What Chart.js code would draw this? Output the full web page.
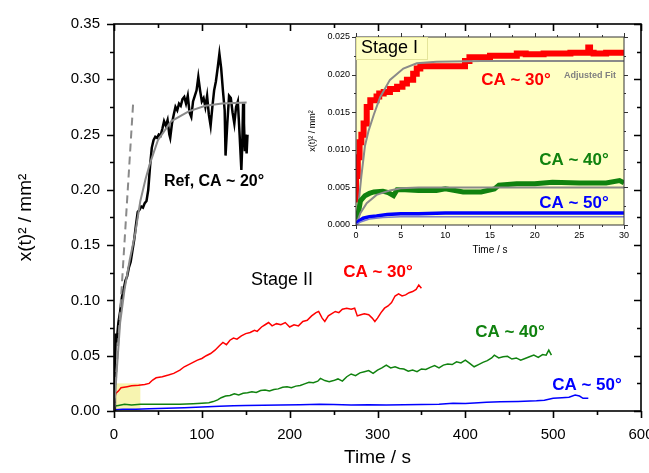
<!DOCTYPE html>
<html>
<head>
<meta charset="utf-8">
<script src="https://cdn.jsdelivr.net/npm/chart.js@4.4.1/dist/chart.umd.min.js"></script>
<style>
  body { margin: 0; background: #fff; }
  #wrap { position: relative; width: 649px; height: 473px; }
  #main { position: absolute; left: 0; top: 0; }
  #inset { position: absolute; left: 300px; top: 20px; }
</style>
</head>
<body>
<div id="wrap">
  <canvas id="main" width="649" height="473"></canvas>
  <canvas id="inset" width="340" height="250"></canvas>
</div>
<script>
// ---- main chart data (time in s, x(t)^2 in mm^2) ----
var refT = [0, 1, 2, 3, 5, 7, 9, 11, 13, 15, 17, 19, 21, 23, 25, 27, 29, 31, 33, 35, 37, 39, 41, 43, 45, 47, 49, 51, 53, 55, 57, 59, 61, 63, 64, 66, 68, 70, 72, 74, 76, 78, 80, 82, 84, 86, 88, 90, 92, 94, 96, 98, 100, 102, 104, 106, 108, 110, 112, 114, 116, 118, 120, 122, 124, 126, 127, 129, 131, 133, 135, 137, 139, 141, 143, 145, 146, 147, 148, 149, 150, 151, 152];
var refY = [0, 0.04, 0.07, 0.062, 0.08, 0.09, 0.103, 0.11, 0.118, 0.122, 0.13, 0.135, 0.145, 0.155, 0.168, 0.18, 0.182, 0.185, 0.184, 0.188, 0.19, 0.2, 0.221, 0.238, 0.245, 0.248, 0.247, 0.25, 0.249, 0.255, 0.262, 0.258, 0.263, 0.25, 0.247, 0.26, 0.268, 0.275, 0.272, 0.278, 0.276, 0.282, 0.284, 0.278, 0.285, 0.27, 0.266, 0.28, 0.285, 0.29, 0.302, 0.29, 0.28, 0.283, 0.275, 0.285, 0.268, 0.258, 0.275, 0.29, 0.298, 0.31, 0.323, 0.31, 0.29, 0.272, 0.231, 0.26, 0.285, 0.283, 0.27, 0.26, 0.275, 0.28, 0.25, 0.218, 0.24, 0.278, 0.26, 0.235, 0.25, 0.233, 0.25];
var refFitT = [0, 3, 7, 12, 18, 24, 30, 36, 41, 50, 65, 85, 104, 123, 151];
var refFitY = [0, 0.035, 0.08, 0.11, 0.137, 0.16, 0.19, 0.21, 0.224, 0.245, 0.262, 0.271, 0.276, 0.278, 0.279];
var refDashT = [0, 22];
var refDashY = [0, 0.281];

var ca30T = [0, 1, 2, 5, 8, 15, 20, 28, 35, 40, 44, 48, 55, 62, 68, 75, 80, 85, 90, 95, 100, 105, 110, 115, 120, 124, 128, 132, 136, 140, 145, 150, 155, 160, 163, 168, 172, 176, 180, 185, 190, 195, 200, 205, 210, 215, 220, 225, 230, 233, 237, 240, 244, 248, 252, 256, 260, 265, 270, 274, 277, 281, 285, 290, 294, 297, 300, 304, 308, 312, 316, 320, 324, 328, 332, 336, 340, 344, 347, 350];
var ca30Y = [0.003, 0.012, 0.016, 0.018, 0.021, 0.022, 0.0228, 0.0232, 0.024, 0.025, 0.028, 0.03, 0.031, 0.0325, 0.034, 0.037, 0.04, 0.042, 0.044, 0.046, 0.0475, 0.05, 0.052, 0.055, 0.059, 0.062, 0.06, 0.064, 0.066, 0.065, 0.068, 0.07, 0.071, 0.073, 0.072, 0.076, 0.078, 0.08, 0.077, 0.079, 0.078, 0.08, 0.076, 0.078, 0.077, 0.081, 0.082, 0.086, 0.089, 0.09, 0.084, 0.081, 0.086, 0.088, 0.09, 0.089, 0.092, 0.093, 0.092, 0.093, 0.086, 0.087, 0.088, 0.087, 0.084, 0.081, 0.084, 0.089, 0.093, 0.095, 0.098, 0.104, 0.106, 0.104, 0.105, 0.107, 0.108, 0.11, 0.114, 0.111];

var ca40T = [0, 1, 5, 12, 20, 30, 45, 60, 75, 90, 100, 108, 113, 118, 122, 127, 132, 137, 142, 147, 152, 157, 162, 167, 172, 177, 182, 187, 192, 197, 202, 207, 212, 217, 222, 227, 232, 235, 240, 245, 250, 255, 260, 265, 270, 275, 280, 285, 290, 295, 300, 305, 310, 315, 320, 325, 330, 335, 340, 345, 350, 355, 360, 365, 370, 375, 380, 385, 390, 395, 400, 405, 410, 415, 420, 425, 430, 433, 438, 443, 448, 453, 458, 463, 468, 473, 478, 483, 488, 492, 495, 498];
var ca40Y = [0.001, 0.0045, 0.005, 0.006, 0.0055, 0.006, 0.006, 0.0062, 0.006, 0.0065, 0.007, 0.0075, 0.0085, 0.01, 0.012, 0.0135, 0.014, 0.0155, 0.0145, 0.016, 0.0165, 0.0175, 0.0168, 0.0185, 0.019, 0.0182, 0.0195, 0.02, 0.0215, 0.022, 0.021, 0.0225, 0.023, 0.0245, 0.026, 0.0255, 0.027, 0.0295, 0.0275, 0.0265, 0.0275, 0.029, 0.027, 0.031, 0.0335, 0.032, 0.0345, 0.0355, 0.0365, 0.034, 0.037, 0.039, 0.0415, 0.039, 0.04, 0.0385, 0.038, 0.036, 0.037, 0.0355, 0.038, 0.0375, 0.0395, 0.041, 0.039, 0.0415, 0.0425, 0.042, 0.0445, 0.0435, 0.046, 0.043, 0.04, 0.042, 0.044, 0.0455, 0.048, 0.0505, 0.048, 0.049, 0.0495, 0.047, 0.048, 0.046, 0.0475, 0.049, 0.0505, 0.0485, 0.051, 0.0505, 0.055, 0.0505];

var ca50T = [0, 2, 10, 25, 40, 60, 80, 100, 120, 136, 150, 170, 190, 212, 234, 250, 270, 290, 310, 330, 350, 370, 386, 400, 415, 424, 440, 460, 481, 490, 500, 510, 518, 525, 530, 534, 540];
var ca50Y = [0.0005, 0.0012, 0.0015, 0.0016, 0.002, 0.0025, 0.003, 0.0036, 0.0042, 0.0048, 0.005, 0.0052, 0.0055, 0.0056, 0.006, 0.0058, 0.0055, 0.0057, 0.0054, 0.0056, 0.0058, 0.0062, 0.007, 0.0068, 0.0075, 0.0079, 0.0083, 0.0087, 0.0093, 0.0098, 0.0115, 0.012, 0.0125, 0.0145, 0.0135, 0.0115, 0.0115];

// ---- inset data (Stage I, first 30 s) ----
var s1RedT = [0, 0.2, 0.4, 0.6, 0.85, 1.2, 1.6, 1.8, 2.3, 2.6, 3.1, 3.8, 4.6, 5.2, 5.7, 6.4, 6.8, 7.2, 7.5, 12.2, 12.7, 13.1, 15, 18, 19, 21, 24, 26, 26.2, 26.6, 28, 30];
var s1RedY = [0.003, 0.0065, 0.009, 0.011, 0.012, 0.0135, 0.0157, 0.0166, 0.0166, 0.0171, 0.0175, 0.0177, 0.0181, 0.0184, 0.0188, 0.0193, 0.0201, 0.0208, 0.0211, 0.0211, 0.0218, 0.0223, 0.0223, 0.0225, 0.0228, 0.0227, 0.0228, 0.0229, 0.0236, 0.0229, 0.0228, 0.0229];
var s1RedFitT = [0, 0.3, 0.6, 1.0, 1.4, 2.0, 2.7, 3.8, 5.3, 6.8, 9, 14, 30];
var s1RedFitY = [0, 0.003, 0.0065, 0.0105, 0.0125, 0.0147, 0.017, 0.0193, 0.0208, 0.0215, 0.0217, 0.0218, 0.0218];

var s1GreenT = [0, 0.3, 0.5, 1.0, 1.5, 2, 3, 3.6, 4.2, 4.6, 5.5, 7, 9, 10, 12, 14, 15.5, 16, 18, 20, 22, 25, 28, 29.5, 30];
var s1GreenY = [0.0008, 0.0018, 0.0032, 0.0039, 0.0042, 0.0044, 0.0045, 0.0043, 0.0039, 0.0047, 0.0047, 0.0046, 0.0046, 0.0048, 0.0044, 0.0044, 0.0048, 0.0053, 0.0055, 0.0055, 0.0057, 0.0056, 0.0056, 0.0059, 0.0056];
var s1GreenFitT = [0, 0.5, 1.2, 2.3, 3.8, 5, 7, 30];
var s1GreenFitY = [0, 0.0016, 0.0029, 0.004, 0.0046, 0.0049, 0.005, 0.005];

var s1BlueT = [0, 0.3, 0.8, 1.5, 2.3, 3.5, 5, 7, 10, 15, 20, 25, 30];
var s1BlueY = [0.0002, 0.0005, 0.0009, 0.0011, 0.0012, 0.0014, 0.0015, 0.0015, 0.0016, 0.0016, 0.0016, 0.0016, 0.0016];
var s1BlueFitT = [0, 0.5, 1.5, 3, 5, 8, 30];
var s1BlueFitY = [0, 0.0004, 0.0008, 0.001, 0.0011, 0.0011, 0.0011];

var FONT = "Arial, 'Liberation Sans', sans-serif";
Chart.defaults.color = '#000';
Chart.defaults.font.family = FONT;

function pts(xs, ys) {
  return xs.map(function(x, i) { return {x: x, y: ys[i]}; });
}

function series(xs, ys, color, width, order, extra) {
  var ds = {
    data: pts(xs, ys), borderColor: color, borderWidth: width,
    pointRadius: 0, tension: 0, fill: false, order: order
  };
  return Object.assign(ds, extra || {});
}

// frame, tick marks, shaded boxes and text labels
var framePlugin = {
  id: 'frame',
  beforeDatasetsDraw: function(chart, args, o) {
    var ctx = chart.ctx, a = chart.chartArea, xs = chart.scales.x, ys = chart.scales.y;
    ctx.save();
    if (o.areaFill) {
      ctx.fillStyle = o.areaFill;
      ctx.fillRect(a.left, a.top, a.right - a.left, a.bottom - a.top);
    }
    if (o.box) {
      var x0 = xs.getPixelForValue(o.box.x0), x1 = xs.getPixelForValue(o.box.x1);
      var y0 = ys.getPixelForValue(o.box.y0), y1 = ys.getPixelForValue(o.box.y1);
      ctx.fillStyle = o.box.color;
      ctx.fillRect(x0, y1, x1 - x0, y0 - y1);
    }
    ctx.restore();
  },
  afterDraw: function(chart, args, o) {
    var ctx = chart.ctx, a = chart.chartArea, xs = chart.scales.x, ys = chart.scales.y;
    var t = o.ticks;
    ctx.save();
    ctx.strokeStyle = o.axisColor;
    ctx.lineWidth = o.axisWidth;
    ctx.beginPath();
    var n = Math.round((xs.max - xs.min) / t.xMinor);
    for (var i = 0; i <= n; i++) {
      var v = xs.min + i * t.xMinor;
      var L = (i % t.xEvery === 0) ? t.major : t.minor;
      var px = Math.round(xs.getPixelForValue(v)) + 0.5;
      ctx.moveTo(px, a.bottom); ctx.lineTo(px, a.bottom + L * t.bottomDir);
      ctx.moveTo(px, a.top); ctx.lineTo(px, a.top - L * t.topDir);
    }
    n = Math.round((ys.max - ys.min) / t.yMinor);
    for (i = 0; i <= n; i++) {
      v = ys.min + i * t.yMinor;
      L = (i % t.yEvery === 0) ? t.major : t.minor;
      var py = Math.round(ys.getPixelForValue(v)) + 0.5;
      ctx.moveTo(a.left, py); ctx.lineTo(a.left - L * t.leftDir, py);
      ctx.moveTo(a.right, py); ctx.lineTo(a.right + L * t.rightDir, py);
    }
    ctx.stroke();
    ctx.strokeRect(a.left, a.top, a.right - a.left, a.bottom - a.top);

    (o.labels || []).forEach(function(lb) {
      if (lb.box) {
        ctx.fillStyle = lb.box.fill;
        ctx.fillRect(lb.box.x0, lb.box.y0, lb.box.x1 - lb.box.x0, lb.box.y1 - lb.box.y0);
        ctx.strokeStyle = lb.box.stroke;
        ctx.lineWidth = 1;
        ctx.strokeRect(lb.box.x0 + 0.5, lb.box.y0 + 0.5, lb.box.x1 - lb.box.x0 - 1, lb.box.y1 - lb.box.y0 - 1);
      }
      ctx.fillStyle = lb.color;
      ctx.font = lb.font + ' ' + FONT;
      ctx.textAlign = lb.align || 'center';
      ctx.textBaseline = 'middle';
      ctx.fillText(lb.text, lb.x, lb.y);
    });
    ctx.restore();
  }
};

function axisX(min, max, step, tickSize, pad, title, titleSize, titlePad, height) {
  return {
    type: 'linear', min: min, max: max,
    grid: { display: false, drawTicks: false }, border: { display: false },
    ticks: { stepSize: step, autoSkip: false, maxRotation: 0, padding: pad,
             font: { size: tickSize }, color: '#000' },
    title: { display: true, text: title, color: '#000', font: { size: titleSize },
             padding: { top: 0, bottom: titlePad } },
    afterFit: function(s) { s.height = height; s.paddingLeft = 0; s.paddingRight = 0; }
  };
}

function axisY(min, max, step, digits, tickSize, pad, title, titleSize, titlePad, width) {
  return {
    type: 'linear', min: min, max: max,
    grid: { display: false, drawTicks: false }, border: { display: false },
    ticks: { stepSize: step, autoSkip: false, padding: pad, font: { size: tickSize }, color: '#000',
             callback: function(v) { return v.toFixed(digits); } },
    title: { display: true, text: title, color: '#000', font: { size: titleSize },
             padding: { top: titlePad, bottom: 0 } },
    afterFit: function(s) { s.width = width; s.paddingTop = 0; s.paddingBottom = 0; }
  };
}

new Chart(document.getElementById('main'), {
  type: 'line',
  data: {
    datasets: [
      series(ca50T, ca50Y, '#0000ff', 1.5, 6),
      series(ca40T, ca40Y, '#10820f', 1.5, 5),
      series(ca30T, ca30Y, '#ff0000', 1.5, 4),
      series(refT, refY, '#000000', 2.5, 3),
      series(refFitT, refFitY, '#8a8a8a', 2, 2),
      series(refDashT, refDashY, '#8a8a8a', 2, 1, { borderDash: [8, 5] })
    ]
  },
  options: {
    responsive: false, animation: false, devicePixelRatio: 1,
    layout: { padding: { top: 24, right: 8, left: 0, bottom: 0 } },
    plugins: {
      legend: { display: false }, tooltip: { enabled: false },
      frame: {
        axisColor: '#000', axisWidth: 1.6,
        box: { x0: 0, x1: 30, y0: 0, y1: 0.025, color: '#f7f4b0' },
        ticks: { xMinor: 50, xEvery: 2, yMinor: 0.025, yEvery: 2, major: 7, minor: 4,
                 bottomDir: 1, topDir: -1, leftDir: 1, rightDir: -1 },
        labels: [
          { text: 'Ref, CA ~ 20°', x: 214, y: 182, color: '#000', font: 'bold 16px' },
          { text: 'Stage II', x: 282, y: 280, color: '#000', font: '18px' },
          { text: 'CA ~ 30°', x: 378, y: 272, color: '#ff0000', font: 'bold 17px' },
          { text: 'CA ~ 40°', x: 510, y: 332, color: '#10820f', font: 'bold 17px' },
          { text: 'CA ~ 50°', x: 587, y: 385, color: '#0000ff', font: 'bold 17px' }
        ]
      }
    },
    scales: {
      x: axisX(0, 600, 100, 15, 15, 'Time / s', 19, 4, 62),
      y: axisY(0, 0.35, 0.05, 2, 15, 14, 'x(t)² / mm²', 19, 14, 114)
    }
  },
  plugins: [framePlugin]
});

new Chart(document.getElementById('inset'), {
  type: 'line',
  data: {
    datasets: [
      series(s1RedT, s1RedY, '#ff0000', 6, 6, { stepped: 'after' }),
      series(s1RedFitT, s1RedFitY, '#8a8a8a', 2, 5),
      series(s1GreenT, s1GreenY, '#10820f', 5, 4),
      series(s1GreenFitT, s1GreenFitY, '#8a8a8a', 2, 3),
      series(s1BlueT, s1BlueY, '#0000ff', 3.5, 2),
      series(s1BlueFitT, s1BlueFitY, '#7b7bd0', 1.5, 1)
    ]
  },
  options: {
    responsive: false, animation: false, devicePixelRatio: 1,
    layout: { padding: { top: 17, right: 16, left: 0, bottom: 0 } },
    plugins: {
      legend: { display: false }, tooltip: { enabled: false },
      frame: {
        axisColor: '#333', axisWidth: 1,
        areaFill: '#ffffc4',
        ticks: { xMinor: 2.5, xEvery: 2, yMinor: 0.0025, yEvery: 2, major: 4, minor: 2,
                 bottomDir: 1, topDir: 1, leftDir: 1, rightDir: 1 },
        labels: [
          { text: 'Stage I', x: 61, y: 28, color: '#000', font: '18px', align: 'left',
            box: { x0: 56, y0: 17, x1: 128, y1: 40, fill: '#ffffc4', stroke: '#e4e49a' } },
          { text: 'CA ~ 30°', x: 216, y: 60, color: '#ff0000', font: 'bold 17px' },
          { text: 'Adjusted Fit', x: 290, y: 56, color: '#808080', font: 'bold 9px' },
          { text: 'CA ~ 40°', x: 274, y: 140, color: '#10820f', font: 'bold 17px' },
          { text: 'CA ~ 50°', x: 274, y: 183, color: '#0000ff', font: 'bold 17px' }
        ]
      }
    },
    scales: {
      x: axisX(0, 30, 5, 9, 5, 'Time / s', 10, 14, 45),
      y: axisY(0, 0.025, 0.005, 3, 9, 6, 'x(t)² / mm²', 9, 7, 56)
    }
  },
  plugins: [framePlugin]
});
</script>
</body>
</html>
